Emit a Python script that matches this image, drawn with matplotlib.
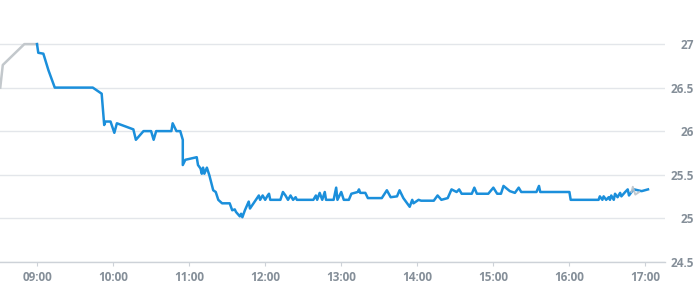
import matplotlib
matplotlib.use("Agg")
import matplotlib.pyplot as plt
from matplotlib.ticker import FixedLocator, FuncFormatter

plt.rcParams["font.family"] = ["Open Sans", "DejaVu Sans"]

# Pre-open quotes (grey)
pre_times = ["08:31", "08:33", "08:50", "09:00"]
pre_prices = [26.50, 26.76, 27.00, 27.00]

# Intraday quotes (blue)
times = [
    "09:00", "09:01", "09:05", "09:09", "09:14", "09:44", "09:51", "09:53", "09:54", "09:58",
    "10:01", "10:03", "10:16", "10:18", "10:24", "10:30", "10:32", "10:34", "10:46", "10:47",
    "10:50", "10:53", "10:55", "10:55", "10:57", "11:06", "11:07", "11:09", "11:10", "11:11",
    "11:12", "11:14", "11:16", "11:19", "11:21", "11:23", "11:26", "11:32", "11:34", "11:36",
    "11:37", "11:40", "11:41", "11:42", "11:44", "11:47", "11:48", "11:55", "11:56", "11:58",
    "12:00", "12:02", "12:03", "12:04", "12:12", "12:14", "12:16", "12:18", "12:20", "12:22",
    "12:24", "12:25", "12:38", "12:40", "12:41", "12:43", "12:45", "12:47", "12:48", "12:54",
    "12:56", "12:57", "13:00", "13:02", "13:06", "13:08", "13:13", "13:14", "13:15", "13:19",
    "13:21", "13:32", "13:36", "13:39", "13:44", "13:46", "13:49", "13:52", "13:54", "13:56",
    "13:57", "14:01", "14:03", "14:13", "14:16", "14:19", "14:24", "14:27", "14:31", "14:33",
    "14:35", "14:43", "14:45", "14:47", "14:56", "15:00", "15:03", "15:06", "15:08", "15:13",
    "15:17", "15:20", "15:22", "15:34", "15:36", "15:37", "16:00", "16:01", "16:23", "16:24",
    "16:26", "16:27", "16:29", "16:31", "16:32", "16:33", "16:35", "16:36", "16:38", "16:40",
    "16:41", "16:44", "16:46", "16:47", "16:49", "16:51", "16:57", "17:02",
]
prices = [
    27.00, 26.90, 26.89, 26.70, 26.50, 26.50, 26.43, 26.07, 26.11, 26.11,
    25.98, 26.09, 26.02, 25.90, 26.00, 26.00, 25.90, 26.00, 26.00, 26.09,
    26.00, 26.00, 25.90, 25.61, 25.67, 25.70, 25.61, 25.57, 25.51, 25.58,
    25.51, 25.58, 25.49, 25.32, 25.30, 25.21, 25.17, 25.17, 25.09, 25.10,
    25.07, 25.02, 25.05, 25.01, 25.09, 25.19, 25.11, 25.26, 25.21, 25.26,
    25.21, 25.26, 25.28, 25.21, 25.21, 25.30, 25.26, 25.21, 25.26, 25.21,
    25.24, 25.21, 25.21, 25.26, 25.21, 25.29, 25.21, 25.30, 25.21, 25.21,
    25.35, 25.21, 25.30, 25.21, 25.21, 25.28, 25.30, 25.33, 25.29, 25.29,
    25.23, 25.23, 25.32, 25.24, 25.25, 25.32, 25.23, 25.17, 25.13, 25.21,
    25.17, 25.21, 25.20, 25.20, 25.26, 25.21, 25.23, 25.33, 25.30, 25.33,
    25.28, 25.28, 25.35, 25.28, 25.28, 25.35, 25.28, 25.28, 25.37, 25.31,
    25.29, 25.35, 25.30, 25.30, 25.37, 25.30, 25.30, 25.21, 25.21, 25.25,
    25.21, 25.25, 25.21, 25.24, 25.21, 25.26, 25.21, 25.28, 25.24, 25.29,
    25.25, 25.30, 25.33, 25.26, 25.30, 25.33, 25.31, 25.33,
]

# Small grey overlay near the close
post_times = ["16:49", "16:50", "16:52", "16:55"]
post_prices = [25.30, 25.36, 25.27, 25.30]

y_ticks = [24.5, 25, 25.5, 26, 26.5, 27]
x_ticks = [9, 10, 11, 12, 13, 14, 15, 16, 17]


def to_hours(t):
    h, m = t.split(":")
    return int(h) + int(m) / 60


fig = plt.figure(figsize=(6.95, 3.0), dpi=100)
ax = fig.add_axes([0.0, 0.128, 0.957, 0.812])

ax.plot([to_hours(t) for t in pre_times], pre_prices, color="#c3c8cc", lw=1.8,
        solid_joinstyle="round")
ax.plot([to_hours(t) for t in times], prices, color="#1b8fdb", lw=1.8,
        solid_joinstyle="round")
ax.plot([to_hours(t) for t in post_times], post_prices, color="#b9c2ca", lw=1.4,
        alpha=0.9)

ax.set_xlim(8 + 30.8 / 60, 17 + 15.5 / 60)
ax.set_ylim(24.5, 27.3)

ax.yaxis.tick_right()
ax.yaxis.set_major_locator(FixedLocator(y_ticks))
ax.yaxis.set_major_formatter(FuncFormatter(lambda v, p: f"{v:g}"))
ax.xaxis.set_major_locator(FixedLocator(x_ticks))
ax.xaxis.set_major_formatter(FuncFormatter(lambda v, p: f"{int(round(v)):02d}:00"))

for s in ["top", "left", "right"]:
    ax.spines[s].set_visible(False)
ax.spines["bottom"].set_color("#cdd2d8")
ax.spines["bottom"].set_linewidth(1.0)

ax.grid(axis="y", color="#e3e6ea", lw=1.0)
ax.set_axisbelow(True)

ax.tick_params(axis="y", length=0, pad=21, labelsize=8.5, labelcolor="#858f99")
ax.tick_params(axis="x", length=3, width=0.8, color="#cdd2d8", pad=4,
               labelsize=8.5, labelcolor="#858f99")
for lbl in ax.get_yticklabels():
    lbl.set_horizontalalignment("right")
    lbl.set_fontweight("bold")
for lbl in ax.get_xticklabels():
    lbl.set_fontweight("bold")

fig.savefig("out.png", dpi=100, facecolor="white")
